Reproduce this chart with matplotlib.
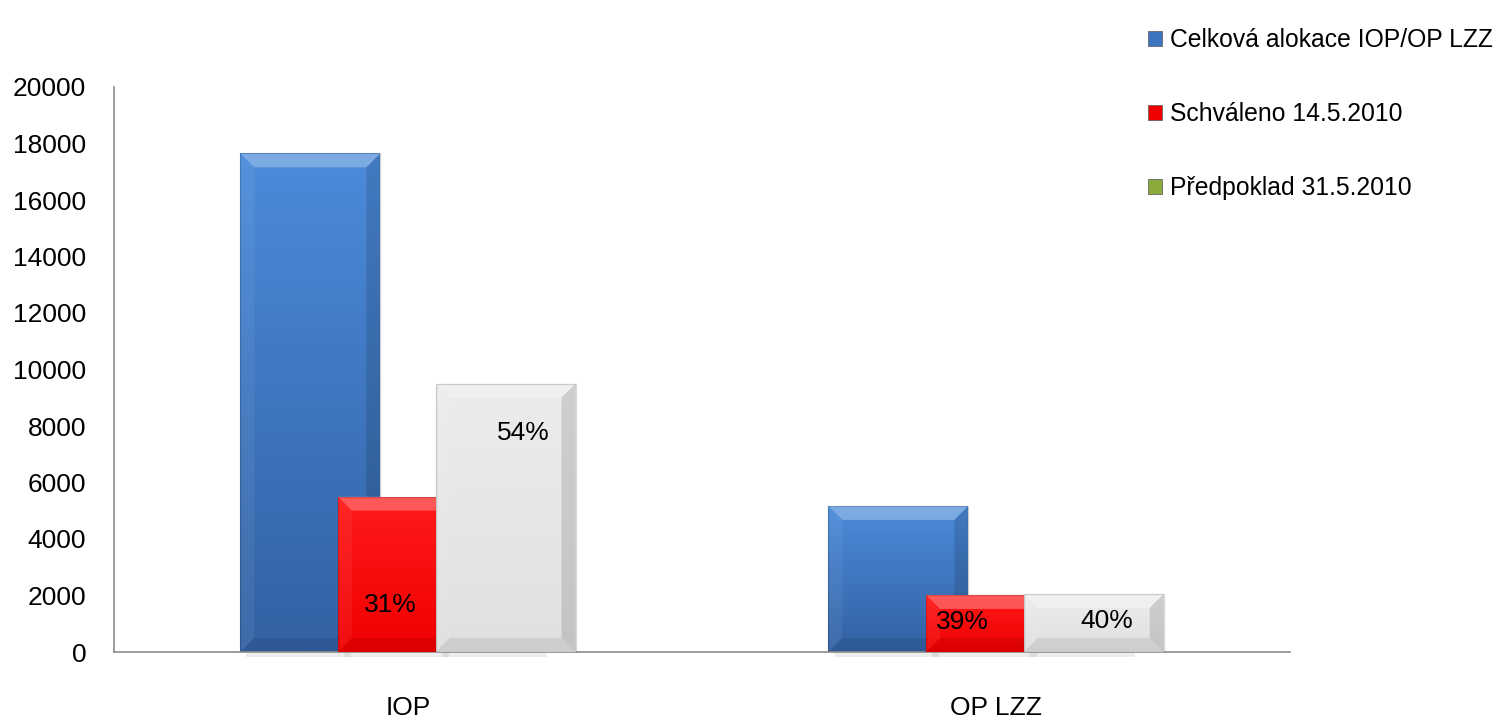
import numpy as np
import matplotlib
matplotlib.use("Agg")
import matplotlib.pyplot as plt
from matplotlib.patches import Patch, Polygon

plt.rcParams["font.family"] = ["Liberation Sans Narrow", "Liberation Sans", "DejaVu Sans"]

# ------------------------------------------------------------------
# Data
# ------------------------------------------------------------------
categories = ["IOP", "OP LZZ"]
series_names = ["Celková alokace IOP/OP LZZ", "Schváleno 14.5.2010", "Předpoklad 31.5.2010"]
alokace = [17650, 5170]
schvaleno = [5500, 2020]
predpoklad = [9500, 2050]
schvaleno_pct = ["31%", "39%"]
predpoklad_pct = ["54%", "40%"]
y_ticks = [0, 2000, 4000, 6000, 8000, 10000, 12000, 14000, 16000, 18000, 20000]

# styles
face_top = ["#4b8bda", "#ff1a1a", "#ececec"]
face_bot = ["#3361a3", "#f00000", "#e0e0e0"]
legend_colors = ["#3d74c0", "#f00000", "#8aab3c"]

W, H = 1499, 721
fig = plt.figure(figsize=(W / 100, H / 100), dpi=100)
ax = fig.add_axes([114 / W, (H - 652) / H, (1290 - 114) / W, (652 - 87) / H])
ax.set_xlim(-0.5, 1.5)
ax.set_ylim(0, 20000)

x = np.arange(len(categories))
width = 0.238
step = 0.166


def px_to_data(dx, dy):
    inv = ax.transData.inverted()
    p0 = inv.transform((0, 0))
    p1 = inv.transform((dx, dy))
    return p1[0] - p0[0], p1[1] - p0[1]


def bevel_bar(rect, ctop, cbot, zorder):
    """Fill a bar with a vertical gradient and add bevel edges."""
    x0, y0 = rect.get_x(), rect.get_y()
    w, h = rect.get_width(), rect.get_height()
    grad = np.linspace(0, 1, 64).reshape(-1, 1)
    c1 = np.array(matplotlib.colors.to_rgb(cbot))
    c2 = np.array(matplotlib.colors.to_rgb(ctop))
    img = c1 + (c2 - c1) * grad[..., None]
    im = ax.imshow(img, extent=(x0, x0 + w, y0, y0 + h), origin="lower",
                   aspect="auto", zorder=zorder, interpolation="bilinear")
    im.set_clip_path(rect)
    bx, by = px_to_data(14, 14)
    bx = min(bx, w / 3)
    by = min(by, h / 3)
    x1, y1 = x0 + w, y0 + h
    top = [(x0, y1), (x1, y1), (x1 - bx, y1 - by), (x0 + bx, y1 - by)]
    left = [(x0, y0), (x0, y1), (x0 + bx, y1 - by), (x0 + bx, y0 + by)]
    right = [(x1, y0), (x1, y1), (x1 - bx, y1 - by), (x1 - bx, y0 + by)]
    bottom = [(x0, y0), (x1, y0), (x1 - bx, y0 + by), (x0 + bx, y0 + by)]
    ax.add_patch(Polygon(top, closed=True, facecolor="white", alpha=0.28,
                         edgecolor="none", zorder=zorder + 0.1))
    ax.add_patch(Polygon(left, closed=True, facecolor="white", alpha=0.06,
                         edgecolor="none", zorder=zorder + 0.1))
    ax.add_patch(Polygon(right, closed=True, facecolor="black", alpha=0.12,
                         edgecolor="none", zorder=zorder + 0.1))
    ax.add_patch(Polygon(bottom, closed=True, facecolor="black", alpha=0.08,
                         edgecolor="none", zorder=zorder + 0.1))
    ax.add_patch(plt.Rectangle((x0, y0), w, h, fill=False, edgecolor="black",
                               alpha=0.15, lw=1, zorder=zorder + 0.2))


fig.canvas.draw()
series = [alokace, schvaleno, predpoklad]
for i, vals in enumerate(series):
    bars = ax.bar(x + (i - 1) * step, vals, width, color=face_top[i],
                  zorder=2 + i, align="center")
    for b in bars:
        # soft shadow under the bar
        sx, sy = px_to_data(6, 5)
        ax.add_patch(plt.Rectangle((b.get_x() + sx, -sy), b.get_width() * 0.75, sy,
                                   facecolor="#000000", alpha=0.07, lw=0,
                                   zorder=1.5, clip_on=False))
        bevel_bar(b, face_top[i], face_bot[i], 2 + i)

# percentage labels
for j in range(len(categories)):
    ax.text(x[j] - 0.03 if j == 0 else x[j] - 0.057, 1650 if j == 0 else 1050,
            schvaleno_pct[j], ha="center", va="center", fontsize=19, zorder=10)
    ax.text(x[j] + step + 0.03 if j == 0 else x[j] + step + 0.022,
            predpoklad[j] * 0.815 if j == 0 else 1100,
            predpoklad_pct[j], ha="center", va="center", fontsize=19, zorder=10)

ax.set_xticks(x)
ax.set_xticklabels(categories, fontsize=19)
ax.set_yticks(y_ticks)
ax.set_yticklabels([str(t) for t in y_ticks], fontsize=19)
ax.tick_params(axis="x", length=0, pad=32)
ax.tick_params(axis="y", length=0, pad=20)
for s in ["top", "right"]:
    ax.spines[s].set_visible(False)
for s in ["left", "bottom"]:
    ax.spines[s].set_color("#8c8c8c")
    ax.spines[s].set_linewidth(1.2)

handles = [Patch(facecolor=c, edgecolor="#555555", linewidth=0.5) for c in legend_colors]
fig.legend(handles, series_names, loc="upper left", bbox_to_anchor=(1126 / W, 1.0 - 6 / H),
           frameon=False, fontsize=17.8, handlelength=0.55, handleheight=0.55,
           handletextpad=0.33, labelspacing=2.02)

fig.savefig("out.png", dpi=100)
